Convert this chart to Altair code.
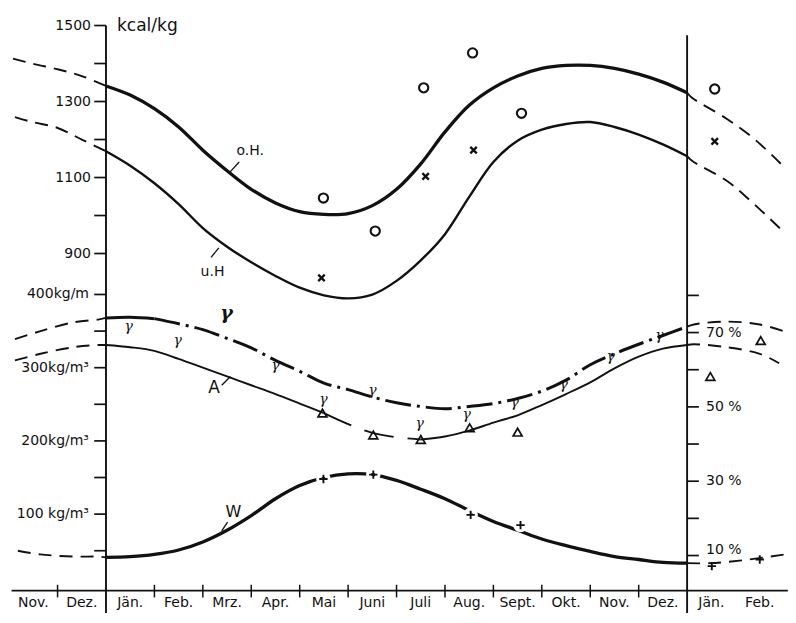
import altair as alt
import pandas as pd

INK = "#111111"
SANS = "DejaVu Sans"
SERIF = "DejaVu Serif"

# x = months counted from 1 January (Jän. spans 0..1); plot runs from Nov. (-2) to Feb. (+14)
t_year = [0, 0.5, 1, 1.5, 2, 2.5, 3, 3.5, 4, 4.5, 5, 5.5, 6, 6.5, 7, 7.5, 8, 8.5, 9, 9.5, 10, 10.5, 11, 11.5, 12]

# upper part, kcal/kg
oh_kcal = [1341, 1317, 1281, 1233, 1172, 1118, 1069, 1033, 1010, 1003, 1005, 1026, 1069,
           1136, 1220, 1290, 1336, 1367, 1387, 1395, 1395, 1387, 1372, 1351, 1323]
uh_kcal = [1169, 1131, 1085, 1030, 967, 918, 877, 841, 810, 790, 782, 792, 828,
           882, 951, 1049, 1141, 1197, 1226, 1241, 1246, 1233, 1213, 1187, 1156]
oh_prev_t = [-1.92, -1.5, -1.0, -0.5, 0]
oh_prev = [1413, 1399, 1385, 1367, 1341]
oh_next_t = [12, 12.1, 12.8, 13.4, 14.0]
oh_next = [1323, 1310, 1256, 1200, 1128]
uh_prev_t = [-1.88, -1.52, -1.01, -0.5, 0]
uh_prev = [1259, 1246, 1231, 1200, 1169]
uh_next_t = [12, 12.1, 12.81, 13.29, 14.0]
uh_next = [1156, 1144, 1092, 1041, 956]

circ_t = [4.49, 5.56, 6.56, 7.57, 8.58, 12.57]
circ_kcal = [1046, 959, 1336, 1428, 1269, 1333]
cross_t = [4.45, 6.60, 7.59, 12.57]
cross_kcal = [836, 1103, 1172, 1195]

# lower part, kg/m³
g_val = [368, 369, 367, 360, 352, 340, 327, 310, 295, 279, 270, 260, 252,
         247, 244, 247, 251, 258, 268, 283, 304, 319, 332, 344, 356]
g_prev_t = [-1.88, -1.35, -0.67, -0.14, 0]
g_prev = [339, 350, 362, 366, 368]
g_next_t = [12, 12.14, 12.81, 13.5, 14.08]
g_next = [356, 359, 363, 359, 348]

a_val = [331, 328, 323, 312, 300, 288, 276, 264, 251, 238, 223, 211, 205,
         202, 206, 214, 225, 235, 249, 264, 280, 299, 315, 326, 331]
a_prev_t = [-1.88, -1.35, -0.67, -0.14, 0]
a_prev = [310, 319, 328, 331, 331]
a_next_t = [12, 12.14, 12.81, 13.5, 13.9]
a_next = [331, 332, 328, 319, 306]

w_val = [41, 42, 45, 51, 62, 78, 98, 121, 139, 150, 155, 154, 146,
         134, 121, 105, 90, 78, 66, 57, 49, 42, 38, 34, 33]
w_prev_t = [-1.82, -1.36, -0.67, -0.2, 0]
w_prev = [50, 45, 42, 42, 41]
w_next_t = [12, 12.48, 13.15, 14.02]
w_next = [33, 33, 37, 45]

tri_t = [4.47, 5.52, 6.50, 7.51, 8.50, 12.48, 13.52]
tri_val = [238, 208, 202, 218, 212, 288, 337]
plus_t = [4.49, 5.52, 7.53, 8.56, 12.51, 13.5]
plus_val = [148, 154, 99, 85, 29, 38]
gam_t = [0.47, 1.48, 3.50, 4.49, 5.50, 6.48, 7.45, 8.44, 9.45, 10.42, 11.43]
gam_val = [356, 336, 302, 256, 268, 223, 236, 252, 276, 315, 343]

# axes
up_ticks = [1500, 1400, 1300, 1200, 1100, 1000, 900]
up_label_v = [1500, 1300, 1100, 900]
up_labels = ["1500", "1300", "1100", "900"]
low_ticks = [400, 350, 300, 250, 200, 150, 100, 50]
low_label_v = [400, 300, 200, 100]
low_labels = ["400kg/m", "300kg/m³", "200kg/m³", "100 kg/m³"]
pct_ticks = [80, 70, 60, 50, 40, 30, 20, 10]
pct_label_v = [70, 50, 30]
pct_labels = ["70 %", "50 %", "30 %"]
months = ["Nov.", "Dez.", "Jän.", "Feb.", "Mrz.", "Apr.", "Mai", "Juni", "Juli",
          "Aug.", "Sept.", "Okt.", "Nov.", "Dez.", "Jän.", "Feb."]
month_bounds = [-1, 1, 2, 3, 4, 5, 6, 7, 8, 9, 10, 11]

# one shared vertical scale in kg/m³; the kcal/kg and % parts are mapped onto it
XS = alt.Scale(domain=[-2.0235, 14.0834], nice=False, zero=False)
YS = alt.Scale(domain=[-37.8, 791.3], nice=False, zero=False)
KCAL = "datum.v * 0.51903 - 11.18"   # kcal/kg -> shared scale
KGM3 = "datum.v * 1"                 # kg/m³ -> shared scale
PCT = "datum.v * 5.0758 - 7.32"      # % -> shared scale

X = alt.X("t:Q", scale=XS, axis=None)
Y = alt.Y("y:Q", scale=YS, axis=None)
INTERP = "catmull-rom"


def frame(ts, vs, **extra):
    d = {"t": ts, "v": vs}
    d.update(extra)
    return pd.DataFrame(d)


def curve(ts, vs, unit, sw, dash=None):
    props = dict(color=INK, strokeWidth=sw, interpolate=INTERP, strokeCap="butt", strokeJoin="round")
    if dash:
        props["strokeDash"] = dash
    return alt.Chart(frame(ts, vs)).transform_calculate(y=unit).mark_line(**props).encode(x=X, y=Y)


def points(ts, vs, unit, shape, size, sw, color=INK):
    return alt.Chart(frame(ts, vs)).transform_calculate(y=unit).mark_point(
        shape=shape, size=size, filled=False, color=color, strokeWidth=sw, opacity=1
    ).encode(x=X, y=Y)


def texts(ts, vs, labels, unit, **props):
    return alt.Chart(frame(ts, vs, label=labels)).transform_calculate(y=unit).mark_text(
        color=INK, **props).encode(x=X, y=Y, text="label:N")


def pointer(t1, v1, t2, v2, unit):
    d = pd.DataFrame({"t": [t1], "v": [v1], "t2": [t2], "w": [v2]})
    return alt.Chart(d).transform_calculate(y=unit, y2=unit.replace("datum.v", "datum.w")).mark_rule(
        color=INK, strokeWidth=1.3).encode(x=X, x2="t2:Q", y=Y, y2="y2:Q")


def ticks(vs, unit, t0, t1):
    d = pd.DataFrame({"v": vs, "t": [t0] * len(vs), "t2": [t1] * len(vs)})
    return alt.Chart(d).transform_calculate(y=unit).mark_rule(
        color=INK, strokeWidth=1.7).encode(x=X, x2="t2:Q", y=Y)


def tick_labels(vs, labels, unit, t0, size=14, **props):
    d = pd.DataFrame({"v": vs, "label": labels, "t": [t0] * len(vs)})
    return alt.Chart(d).transform_calculate(y=unit).mark_text(
        color=INK, font=SANS, fontSize=size, baseline="middle", **props).encode(
        x=X, y=Y, text="label:N")


def vrule(t, top, bottom, sw):
    d = pd.DataFrame({"t": [t], "v": [top], "w": [bottom]})
    return alt.Chart(d).transform_calculate(y="datum.v", y2="datum.w").mark_rule(
        color=INK, strokeWidth=sw).encode(x=X, y=Y, y2="y2:Q")


DASH = [13, 8]

layers = [
    # frame: two year-axes, baseline, month ticks and names
    vrule(0, 767.4, -35, 1.9),
    vrule(12, 754.1, -35, 1.9),
    alt.Chart(pd.DataFrame({"t": [-1.95], "t2": [14.08], "v": [-4.5]})).transform_calculate(
        y="datum.v").mark_rule(color=INK, strokeWidth=1.9).encode(x=X, x2="t2:Q", y=Y),
    alt.Chart(pd.DataFrame({"t": month_bounds, "v": [3.5] * len(month_bounds),
                            "w": [-13.8] * len(month_bounds)})).transform_calculate(
        y="datum.v", y2="datum.w").mark_rule(color=INK, strokeWidth=1.5).encode(x=X, y=Y, y2="y2:Q"),
    alt.Chart(pd.DataFrame({"t": [i - 2 + 0.5 for i in range(len(months))], "label": months,
                            "v": [-21] * len(months)})).transform_calculate(y="datum.v").mark_text(
        color=INK, font=SANS, fontSize=14, align="center", baseline="middle").encode(
        x=X, y=Y, text="label:N"),
    # left axis (kcal/kg and kg/m³)
    ticks(up_ticks, KCAL, 0, -0.243),
    tick_labels(up_label_v, up_labels, KCAL, 0, align="right", dx=-15),
    tick_labels([1500], ["kcal/kg"], KCAL, 0, size=17, align="left", dx=11),
    ticks(low_ticks, KGM3, 0, -0.243),
    tick_labels(low_label_v, low_labels, KGM3, 0, align="right", dx=-17),
    # right axis (%)
    ticks(pct_ticks, PCT, 12, 12.243),
    tick_labels(pct_label_v, pct_labels, PCT, 12, align="left", dx=19),
    tick_labels([10], ["10 %"], PCT, 12, align="left", dx=19, dy=-6),
    # o.H. / u.H.
    curve(t_year, oh_kcal, KCAL, 3.3),
    curve(t_year, uh_kcal, KCAL, 2.4),
    curve(oh_prev_t, oh_prev, KCAL, 1.9, DASH),
    curve(oh_next_t, oh_next, KCAL, 1.9, DASH),
    curve(uh_prev_t, uh_prev, KCAL, 1.9, DASH),
    curve(uh_next_t, uh_next, KCAL, 1.9, DASH),
    points(circ_t, circ_kcal, KCAL, "circle", 85, 2.1),
    points(cross_t, cross_kcal, KCAL, "M-1,-1L1,1M-1,1L1,-1", 42, 2.3),
    texts([2.98], [1169], ["o.H."], KCAL, font=SANS, fontSize=14, align="center", baseline="middle"),
    texts([2.2], [852], ["u.H"], KCAL, font=SANS, fontSize=14, align="center", baseline="middle"),
    pointer(2.55, 1113, 2.75, 1141, KCAL),
    pointer(2.17, 890, 2.33, 915, KCAL),
    # gamma (dash-dot)
    curve(t_year[0:3], g_val[0:3], KGM3, 3),
    curve(t_year[2:], g_val[2:], KGM3, 3, [26, 6, 3, 6]),
    curve(g_prev_t, g_prev, KGM3, 1.9, DASH),
    curve(g_next_t, g_next, KGM3, 1.9, DASH),
    # A
    curve(t_year[0:10], a_val[0:10], KGM3, 1.9),
    curve(t_year[9:14], a_val[9:14], KGM3, 1.9, [30, 14]),
    curve(t_year[13:], a_val[13:], KGM3, 1.9),
    curve(a_prev_t, a_prev, KGM3, 1.9, DASH),
    curve(a_next_t, a_next, KGM3, 1.9, DASH),
    # W (small breaks in the line at the + markers)
    curve(t_year, w_val, KGM3, 3.3),
    curve(w_prev_t, w_prev, KGM3, 1.9, DASH),
    curve(w_next_t, w_next, KGM3, 1.9, DASH),
    points(plus_t[:4], plus_val[:4], KGM3, "circle", 90, 5, color="white"),
    # markers
    points(tri_t, tri_val, KGM3, "triangle-up", 80, 1.7),
    points(plus_t, plus_val, KGM3, "M-1,0L1,0M0,-1L0,1", 70, 1.9),
    texts(gam_t, gam_val, ["γ"] * len(gam_t), KGM3, font=SERIF, fontSize=14, fontStyle="italic",
          align="center", baseline="middle"),
    # series labels
    texts([2.49], [375], ["γ"], KGM3, font=SERIF, fontSize=19, fontStyle="italic", fontWeight="bold",
          align="center", baseline="middle"),
    texts([2.23], [272], ["A"], KGM3, font=SANS, fontSize=17, align="center", baseline="middle"),
    texts([2.63], [103], ["W"], KGM3, font=SANS, fontSize=16, align="center", baseline="middle"),
    pointer(2.39, 276, 2.57, 288, KGM3),
    pointer(2.39, 77, 2.51, 89, KGM3),
]

chart = alt.layer(*layers).properties(
    width=780, height=607, autosize=alt.AutoSizeParams(type="none"), padding=0
).configure_view(stroke=None)

chart.save("out.html", embed_options={"renderer": "svg", "actions": False})
